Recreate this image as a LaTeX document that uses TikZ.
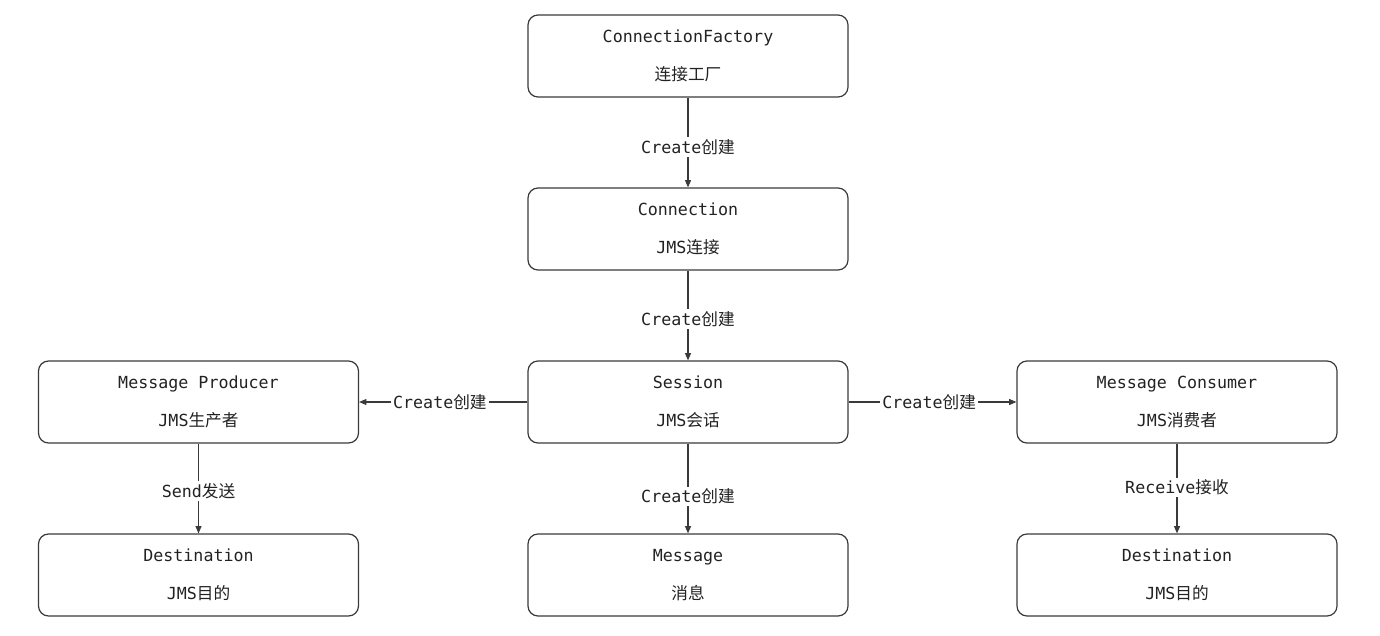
\documentclass[tikz,border=0pt]{standalone}
\usepackage{fontspec}
\setmainfont{DejaVu Sans Mono}
\newfontfamily\cjk{Noto Sans CJK SC}
\usetikzlibrary{arrows.meta}
\newcommand{\zh}[1]{{\cjk #1}}
\definecolor{boxline}{HTML}{3A3A3A}
\definecolor{txt}{HTML}{222222}
\tikzset{
  boxnode/.style={draw=boxline, line width=0.9pt, rounded corners=7.5pt,
    minimum width=240pt, minimum height=61.5pt, inner sep=0pt,
    align=center, text=txt, font=\fontsize{12.5}{28.5}\selectfont},
  conn/.style={draw=boxline, line width=0.8pt, -{Triangle[length=5.5pt,width=4.5pt]}},
  lbl/.style={fill=white, inner sep=1.5pt, text=txt, font=\fontsize{12.5}{15}\selectfont}
}
\begin{document}
\begin{tikzpicture}[x=0.75pt, y=-0.75pt]
\useasboundingbox (0,0) rectangle (1380,635);
\node[boxnode] (cf)   at (688,56)  {ConnectionFactory\\\zh{连接工厂}};
\node[boxnode] (con)  at (688,229) {Connection\\JMS\zh{连接}};
\node[boxnode] (ses)  at (688,402) {Session\\JMS\zh{会话}};
\node[boxnode] (prod) at (198.5,402) {Message Producer\\JMS\zh{生产者}};
\node[boxnode] (cons) at (1177,402) {Message Consumer\\JMS\zh{消费者}};
\node[boxnode] (dl)   at (198.5,575) {Destination\\JMS\zh{目的}};
\node[boxnode] (msg)  at (688,575) {Message\\\zh{消息}};
\node[boxnode] (dr)   at (1177,575) {Destination\\JMS\zh{目的}};

\draw[conn] (cf) -- node[lbl, pos=0.55] (l1) {Create\zh{创建}} (con);
\draw[conn] (con) -- node[lbl, pos=0.54] (l2) {Create\zh{创建}} (ses);
\draw[conn] (ses) -- node[lbl, pos=0.59] (l3) {Create\zh{创建}} (msg);
\draw[conn] (ses) -- node[lbl, pos=0.52] (l4) {Create\zh{创建}} (prod);
\draw[conn] (ses) -- node[lbl, pos=0.48] (l5) {Create\zh{创建}} (cons);
\draw[conn] (prod) -- node[lbl, pos=0.53] (l6) {Send\zh{发送}} (dl);
\draw[conn] (cons) -- node[lbl, pos=0.49] (l7) {Receive\zh{接收}} (dr);
\end{tikzpicture}
\end{document}
